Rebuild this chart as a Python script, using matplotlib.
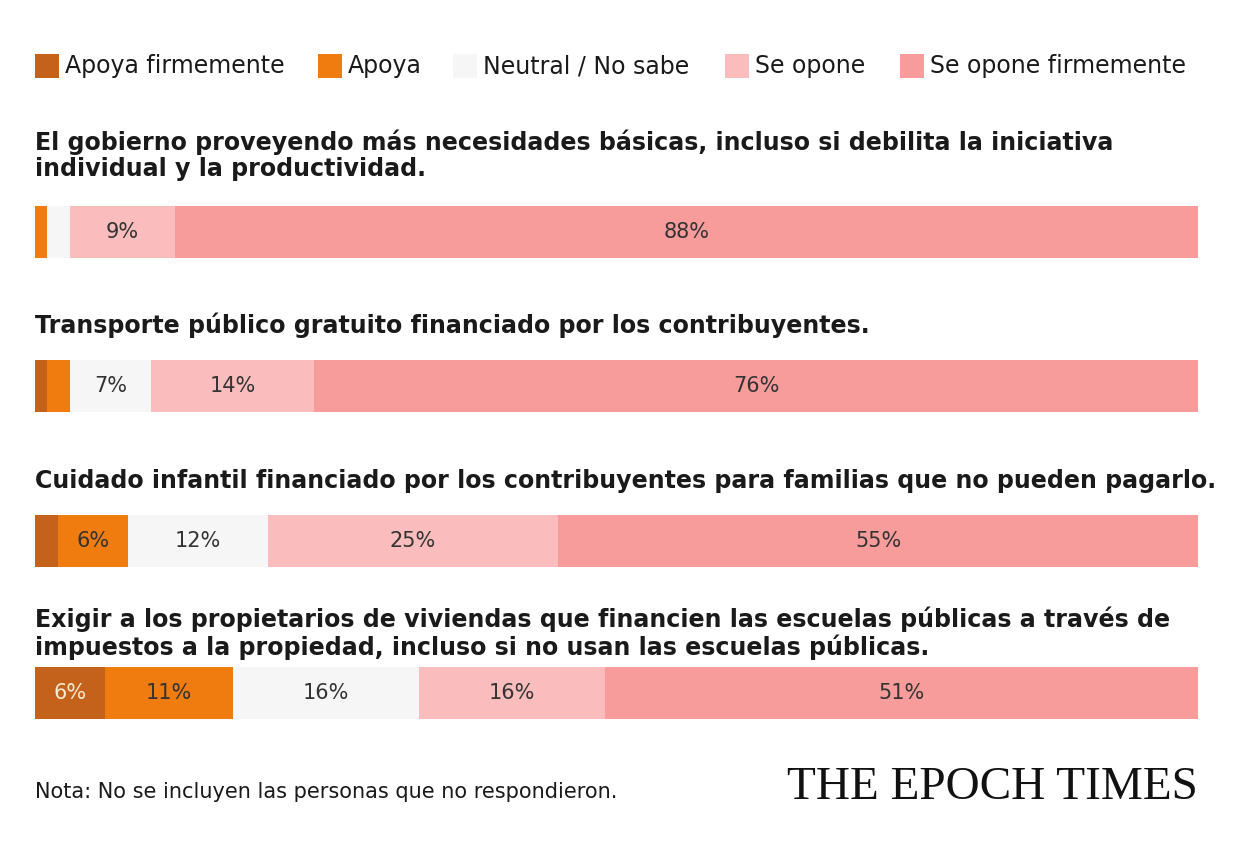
import matplotlib
matplotlib.use("Agg")
import matplotlib.pyplot as plt
import numpy as np

categories = ["Apoya firmemente", "Apoya", "Neutral / No sabe", "Se opone", "Se opone firmemente"]
questions = [
    "El gobierno proveyendo más necesidades básicas, incluso si debilita la iniciativa\nindividual y la productividad.",
    "Transporte público gratuito financiado por los contribuyentes.",
    "Cuidado infantil financiado por los contribuyentes para familias que no pueden pagarlo.",
    "Exigir a los propietarios de viviendas que financien las escuelas públicas a través de\nimpuestos a la propiedad, incluso si no usan las escuelas públicas.",
]
values = [
    [0, 1, 2, 9, 88],
    [1, 2, 7, 14, 76],
    [2, 6, 12, 25, 55],
    [6, 11, 16, 16, 51],
]
colors = ["#c4621c", "#f07c10", "#f6f6f6", "#fabcbc", "#f79b9b"]
label_colors = ["#fbe9d0", "#333333", "#333333", "#333333", "#333333"]

W, H = 1233, 848
fig = plt.figure(figsize=(W/100, H/100), dpi=100)
x0, x1 = 35, 1198
ax = fig.add_axes([x0/W, 0, (x1-x0)/W, 1])
ax.set_xlim(0, 100)
ax.set_ylim(H, 0)
ax.axis("off")

px = 100/(x1-x0)
bar_y = [232, 386, 541, 693]
title_y = [155, 325, 481, 633]
for q, vals, by, ty in zip(questions, values, bar_y, title_y):
    total = sum(vals)
    left = 0
    for v, c, lc in zip(vals, colors, label_colors):
        w = v/total*100
        if v > 0:
            ax.barh(by, w, left=left, height=52, color=c, edgecolor="none")
            if v >= 5:
                ax.text(left+w/2, by, f"{v}%", ha="center", va="center", fontsize=15, color=lc)
        left += w
    ax.text(0, ty, q, ha="left", va="center", fontsize=17.1, fontweight="bold", color="#1a1a1a", linespacing=1.1)

# legend
leg_x = [35, 318, 453, 725, 900]
for xx, c, lab in zip(leg_x, colors, categories):
    ax.barh(66, 24*px, left=(xx-x0)*px, height=24, color=c, edgecolor="none")
    ax.text((xx-x0+30)*px, 66, lab, ha="left", va="center", fontsize=17, color="#1a1a1a")

ax.text(0, 792, "Nota: No se incluyen las personas que no respondieron.", ha="left", va="center", fontsize=15, color="#1a1a1a")
ax.text(100, 788, "THE EPOCH TIMES", ha="right", va="center", fontsize=34, family="Liberation Serif", color="#111111")

fig.savefig("out.png", dpi=100, facecolor="white")
